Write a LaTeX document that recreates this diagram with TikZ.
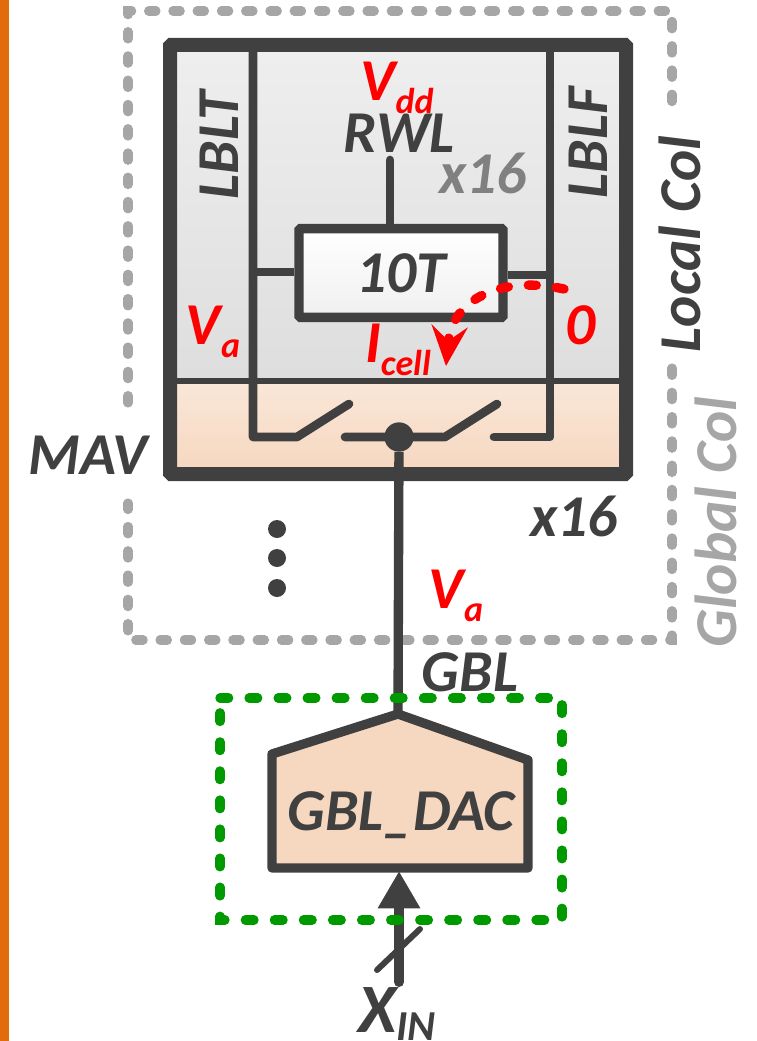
\documentclass[tikz,border=0pt]{standalone}
\usepackage{fontspec}
\setmainfont{Carlito}
\usetikzlibrary{positioning,arrows.meta,calc}
\definecolor{ink}{HTML}{404040}
\definecolor{cred}{HTML}{FF0000}
\definecolor{cgreen}{HTML}{009900}
\definecolor{cdash}{HTML}{A6A6A6}
\definecolor{cband}{HTML}{E36C0A}
\definecolor{cpeach}{HTML}{F6D7BF}
\newcommand{\bigsize}{\fontsize{44.5}{44.5}\selectfont}
\newcommand{\subtxt}[1]{\raisebox{-0.22em}{\fontsize{27}{27}\selectfont #1}}
\tikzset{
  lbl/.style={font=\bigsize\bfseries\itshape, text=ink, inner sep=0pt},
  redlbl/.style={lbl, text=cred},
  wire/.style={draw=ink, line width=6.5pt, line cap=round, line join=round},
  outer/.style={draw=cdash, line width=6.8pt, line cap=round, dash pattern=on 5.6pt off 12.6pt},
  dacbox/.style={draw=cgreen, line width=7pt, line cap=round, dash pattern=on 6.5pt off 15.3pt},
  arr/.style={-{Triangle[length=28pt,width=30pt]}, draw=ink, line width=7.5pt, line cap=round},
  blob/.style={circle, fill=ink, inner sep=0pt, minimum size=13.5pt},
  cellbox/.style={draw=ink, line width=7pt, rounded corners=1pt, top color=white, bottom color=black!6,
    minimum width=153pt, minimum height=66.5pt, lbl},
}
\begin{document}
\begin{tikzpicture}[x=0.75pt,y=-0.75pt]
\useasboundingbox (0,0) rectangle (756,1041);
\fill[cband] (0,0) rectangle (9,1041);

% ---------------- local and global column outline ----------------
\draw[outer] (128,403) -- (128,11) -- (672,11) -- (672,118);
\draw[outer] (672,368) -- (672,640) -- (128,640) -- (128,503);

% ---------------- array column ----------------
\fill[top color=black!6.5, bottom color=black!13] (170,45) rectangle (626,381);
\fill[top color=cpeach!60, bottom color=cpeach] (170,381) rectangle (626,474);
\coordinate (ltop) at (253,45);
\coordinate (lbot) at (253,437);
\coordinate (rtop) at (550,45);
\coordinate (rbot) at (550,437);
\draw[wire] (ltop) -- (lbot) -- (297,437) -- (349,404);
\draw[wire] (rtop) -- (rbot) -- (494,437);
\draw[wire] (345,437) -- (445,437) -- (497,404);
\draw[draw=ink, line width=5pt] (170,381) -- (626,381);
\draw[draw=ink, line width=10.5pt, rounded corners=1pt] (170,45) rectangle (626,474);

% ---------------- bit cell ----------------
\node[cellbox] (cell) at (401,273) {10T};
\coordinate (rwl) at (390,160);
\draw[wire] (rwl) -- (rwl |- cell.north);
\draw[wire, line cap=butt] (cell.west |- 0,272) -- (ltop |- 0,272);
\draw[wire, line cap=butt] (cell.east |- 0,275) -- (rtop |- 0,275);

% ---------------- global bit line ----------------
\node[blob, minimum size=22pt] (mid) at (399,437) {};
\coordinate (apex) at (398,714);
\draw[wire, line width=7pt, line cap=butt] (mid) -- (apex);

% ---------------- converter ----------------
\draw[draw=ink, line width=7pt, line join=round, fill=cpeach] (272,754) -- (apex) -- (528,760) -- (528,868) -- (272,868) -- cycle;
\node[lbl] (dac) at (401,815) {GBL\_DAC};
\coordinate (dacin) at (399,871);
\coordinate (xin) at (399,982);
\draw[arr] (xin) -- (dacin);
\draw[wire, line width=4.5pt] (377,970) -- (420,929);
\draw[dacbox] (220,698) -- (562,698) -- (562,920) -- (220,920) -- cycle;

% ---------------- cell current ----------------
\coordinate (zero) at (564,289);
\coordinate (icell) at (446,366);
\draw[draw=cred, line width=7pt, line cap=round, dash pattern=on 6pt off 15pt, -{Stealth[length=30pt,width=27pt,inset=11pt]}]
  (zero) .. controls (500,275) and (452,300) .. (icell);

% ---------------- dots ----------------
\foreach \y in {529,558,588} { \node[blob] (dot\y) at (277,\y) {}; }

% ---------------- labels ----------------
\node[redlbl] (vdd) at (397,88) {V\subtxt{dd}};
\node[lbl] (rwltxt) at (399,133) {RWL};
\node[lbl, text=black!50] (cnt) at (483,173) {x16};
\node[lbl, rotate=90] (lblt) at (219,145) {LBLT};
\node[lbl, rotate=90] (lblf) at (588,143) {LBLF};
\node[redlbl] (va) at (213,332) {V\subtxt{a}};
\node[redlbl] (cur) at (398,350) {I\subtxt{cell}};
\node[redlbl] (zerotxt) at (581,325) {0};
\node[lbl, rotate=90] (local) at (680,244) {Local Col};
\node[lbl, rotate=90, text=cdash] (global) at (716,522) {Global Col};
\node[lbl] (mav) at (88,455) {MAV};
\node[lbl] (rows) at (574,516) {x16};
\node[redlbl] (vb) at (456,596) {V\subtxt{a}};
\node[lbl] (gbl) at (470,672) {GBL};
\node[lbl, font=\fontsize{52}{52}\selectfont\bfseries\itshape, anchor=base west] (xintxt) at (358,1032) {X\raisebox{-6pt}{\fontsize{32}{32}\selectfont IN}};

\end{tikzpicture}
\end{document}
